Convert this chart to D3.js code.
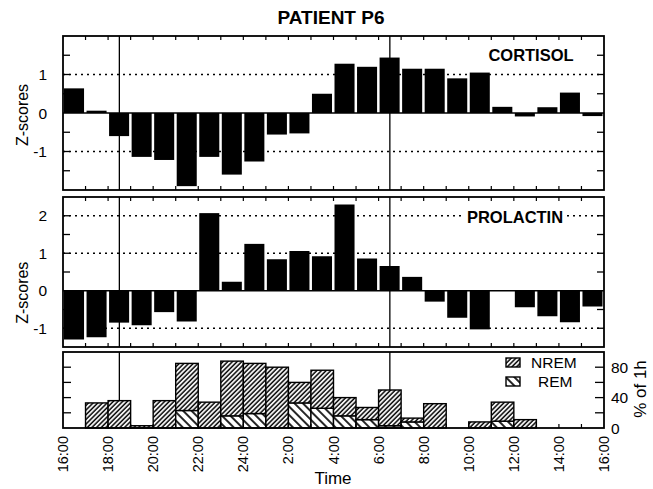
<!DOCTYPE html>
<html>
<head>
<meta charset="utf-8">
<script src="https://cdn.jsdelivr.net/npm/d3@7"></script>
<style>
  html, body { margin: 0; padding: 0; background: #fff; }
  svg { display: block; font-family: "Liberation Sans", Arial, sans-serif; }
</style>
</head>
<body>
<svg id="chart" width="653" height="489"></svg>
<script>
// ---- data ----
const hourStarts = [16,17,18,19,20,21,22,23,24,25,26,27,28,29,30,31,32,33,34,35,36,37,38,39];
const cortisol  = [0.64,0.06,-0.6,-1.14,-1.22,-1.9,-1.14,-1.6,-1.26,-0.56,-0.53,0.5,1.28,1.2,1.44,1.15,1.15,0.9,1.05,0.16,-0.09,0.15,0.53,-0.08];
const prolactin = [-1.3,-1.24,-0.85,-0.92,-0.57,-0.82,2.07,0.24,1.25,0.84,1.06,0.92,2.3,0.86,0.66,0.37,-0.29,-0.72,-1.03,0,-0.44,-0.68,-0.84,-0.42];
const remPct    = [0,0,0,0,0,23,0,16,19,0,33,26,16,11,3,8,0,0,0,9,0,0,0,0];
const nremPct   = [0,33,36,3,36,62,34,72,66,80,27,50,24,16,47,5,32,0,8,25,11,0,0,0];
const tickHours  = [16,18,20,22,24,26,28,30,32,34,36,38,40];
const tickLabels = ["16:00","18:00","20:00","22:00","24:00","2:00","4:00","6:00","8:00","10:00","12:00","14:00","16:00"];
const lightsOff = 18.5, lightsOn = 30.5;
const zTicks1 = [1,0,-1], zTicks2 = [2,1,0,-1], pctTicks = [0,40,80];

// ---- layout ----
const svg = d3.select("#chart");
const L = 63, R = 604;
const x = d3.scaleLinear().domain([16,40]).range([L,R]);
const panels = [
  {top:36, bottom:190, y:d3.scaleLinear().domain([-2,2]).range([190,36])},
  {top:197, bottom:347, y:d3.scaleLinear().domain([-1.5,2.5]).range([347,197])},
  {top:352, bottom:428, y:d3.scaleLinear().domain([0,100]).range([428,352])}
];

// hatch patterns
const defs = svg.append("defs");
const np = defs.append("pattern").attr("id","nrem").attr("patternUnits","userSpaceOnUse")
  .attr("width",3.3).attr("height",10).attr("patternTransform","rotate(45)");
np.append("rect").attr("width",3.3).attr("height",10).attr("fill","#fff");
np.append("line").attr("x1",1).attr("x2",1).attr("y1",0).attr("y2",10)
  .attr("stroke","#000").attr("stroke-width",1.5);
const rp = defs.append("pattern").attr("id","rem").attr("patternUnits","userSpaceOnUse")
  .attr("width",6).attr("height",10).attr("patternTransform","rotate(-45)");
rp.append("rect").attr("width",6).attr("height",10).attr("fill","#fff");
rp.append("line").attr("x1",1).attr("x2",1).attr("y1",0).attr("y2",10)
  .attr("stroke","#000").attr("stroke-width",1.7);

// title
svg.append("text").attr("x",331).attr("y",24).attr("text-anchor","middle")
  .attr("font-size",19).attr("font-weight","bold").text("PATIENT P6");

function frame(p, yTicksMinor, gridVals) {
  gridVals.forEach(v => {
    svg.append("line").attr("x1",L).attr("x2",R).attr("y1",p.y(v)).attr("y2",p.y(v))
      .attr("stroke","#000").attr("stroke-width",1.3).attr("stroke-dasharray","2,4");
  });
  yTicksMinor.forEach(v => {
    svg.append("line").attr("x1",L).attr("x2",L+7).attr("y1",p.y(v)).attr("y2",p.y(v)).attr("stroke","#000").attr("stroke-width",1.3);
    svg.append("line").attr("x1",R-7).attr("x2",R).attr("y1",p.y(v)).attr("y2",p.y(v)).attr("stroke","#000").attr("stroke-width",1.3);
  });
}

const hourTicks = hourStarts.slice(1);
function hourTickMarks(p, topToo) {
  hourTicks.forEach(h => {
    svg.append("line").attr("x1",x(h)).attr("x2",x(h)).attr("y1",p.bottom).attr("y2",p.bottom-4).attr("stroke","#000").attr("stroke-width",1.2);
    if (topToo) svg.append("line").attr("x1",x(h)).attr("x2",x(h)).attr("y1",p.top).attr("y2",p.top+4).attr("stroke","#000").attr("stroke-width",1.2);
  });
}

function zPanel(p, values, minor, grid, labels, name, nameX, nameY, labelBg) {
  frame(p, minor, grid);
  svg.append("g").selectAll("rect").data(values).join("rect")
    .attr("x",(d,i)=>x(hourStarts[i])+1)
    .attr("width",(d,i)=>x(hourStarts[i]+1)-x(hourStarts[i])-2.5)
    .attr("y",d=>p.y(Math.max(0,d)))
    .attr("height",d=>Math.abs(p.y(d)-p.y(0)))
    .attr("fill","#000");
  svg.append("line").attr("x1",L).attr("x2",R).attr("y1",p.y(0)).attr("y2",p.y(0)).attr("stroke","#000").attr("stroke-width",1.3);
  [lightsOff, lightsOn].forEach(h => svg.append("line").attr("x1",x(h)).attr("x2",x(h)).attr("y1",p.top).attr("y2",p.bottom).attr("stroke","#000").attr("stroke-width",1.3));
  hourTickMarks(p, true);
  svg.append("rect").attr("x",L).attr("y",p.top).attr("width",R-L).attr("height",p.bottom-p.top)
    .attr("fill","none").attr("stroke","#000").attr("stroke-width",1.8);
  labels.forEach(v => svg.append("text").attr("x",47).attr("y",p.y(v)).attr("dy","0.36em")
    .attr("text-anchor","end").attr("font-size",15.5).text(v<0 ? "-"+Math.abs(v) : v));
  svg.append("text").attr("transform",`translate(28,${p.y(0)+2}) rotate(-90)`).attr("text-anchor","middle")
    .attr("font-size",16).text("Z-scores");
  const t = svg.append("text").attr("x",nameX).attr("y",nameY).attr("text-anchor","middle")
    .attr("font-size",16.5).attr("font-weight","bold").text(name);
  if (labelBg) {
    const bb = t.node().getBBox();
    svg.insert("rect", () => t.node()).attr("x",bb.x-3).attr("y",bb.y+2).attr("width",bb.width+6).attr("height",bb.height-3).attr("fill","#fff");
  }
}

zPanel(panels[0], cortisol, [-1.5,-1,-0.5,0.5,1,1.5], [1,-1], zTicks1, "CORTISOL", 531, 61, false);
zPanel(panels[1], prolactin, [-1,-0.5,0.5,1,1.5,2], [2,1,-1], zTicks2, "PROLACTIN", 515, 223, true);

// sleep panel
const p3 = panels[2];
[20,40,60,80].forEach(v => {
  svg.append("line").attr("x1",L).attr("x2",L+8).attr("y1",p3.y(v)).attr("y2",p3.y(v)).attr("stroke","#000").attr("stroke-width",1.3);
  svg.append("line").attr("x1",R-9).attr("x2",R).attr("y1",p3.y(v)).attr("y2",p3.y(v)).attr("stroke","#000").attr("stroke-width",1.3);
});
const sg = svg.append("g");
hourStarts.forEach((h,i) => {
  const r = remPct[i], n = nremPct[i];
  if (r > 0) sg.append("rect").attr("x",x(h)).attr("width",x(h+1)-x(h))
    .attr("y",p3.y(r)).attr("height",p3.y(0)-p3.y(r))
    .attr("fill","url(#rem)").attr("stroke","#000").attr("stroke-width",1.4);
  if (n > 0) sg.append("rect").attr("x",x(h)).attr("width",x(h+1)-x(h))
    .attr("y",p3.y(r+n)).attr("height",p3.y(r)-p3.y(r+n))
    .attr("fill","url(#nrem)").attr("stroke","#000").attr("stroke-width",1.4);
});
[lightsOff, lightsOn].forEach(h => {
  const i = hourStarts.indexOf(Math.floor(h));
  svg.append("line").attr("x1",x(h)).attr("x2",x(h)).attr("y1",p3.top).attr("y2",p3.y(remPct[i]+nremPct[i]))
    .attr("stroke","#000").attr("stroke-width",1.3);
});
hourTickMarks(p3, false);
svg.append("rect").attr("x",L).attr("y",p3.top).attr("width",R-L).attr("height",p3.bottom-p3.top)
  .attr("fill","none").attr("stroke","#000").attr("stroke-width",1.8);

// right axis labels
pctTicks.forEach(v => svg.append("text").attr("x",611).attr("y",p3.y(v)).attr("dy","0.36em")
  .attr("font-size",15.5).text(v));
svg.append("text").attr("transform","translate(646,389) rotate(-90)").attr("text-anchor","middle")
  .attr("font-size",17).text("% of 1h");

// legend
const leg = [{k:"nrem",label:"NREM",y:358,tx:531},{k:"rem",label:"REM",y:377,tx:538}];
leg.forEach(d => {
  svg.append("rect").attr("x",506).attr("y",d.y).attr("width",14).attr("height",9)
    .attr("fill",`url(#${d.k})`).attr("stroke","#000").attr("stroke-width",1.4);
  svg.append("text").attr("x",d.tx).attr("y",d.y+4.5).attr("dy","0.36em").attr("font-size",15.5).text(d.label);
});

// x tick labels
tickHours.forEach((h,i) => {
  svg.append("text").attr("transform",`translate(${x(h)},436) rotate(-90)`)
    .attr("text-anchor","end").attr("dy","0.35em").attr("font-size",14.5).text(tickLabels[i]);
});
svg.append("text").attr("x",333).attr("y",484).attr("text-anchor","middle").attr("font-size",17).text("Time");
</script>
</body>
</html>
